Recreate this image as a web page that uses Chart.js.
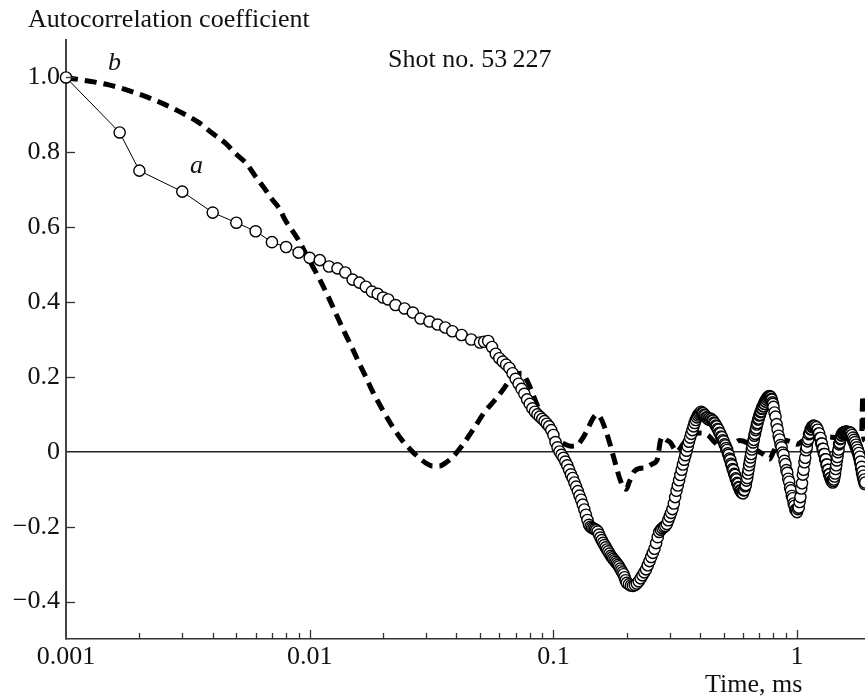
<!DOCTYPE html>
<html>
<head>
<meta charset="utf-8">
<script src="https://cdn.jsdelivr.net/npm/chart.js@4.4.1/dist/chart.umd.min.js"></script>
<style>
html,body{margin:0;padding:0;background:#fff;}
canvas{display:block;}
</style>
</head>
<body>
<canvas id="c" width="865" height="698"></canvas>
<script>
// ---- Data (time in microseconds, converted to ms when building datasets) ----
const aTimeUs = [1,1.66,2,3,4,5,6,7,8,9,10,11,12,13,14,15,16,17,18,19,20,21,22.5,24.5,26.5,28.5,31,33.5,36,38.5,42,46,50,
52,54,56,58,60,62,64,66,68,70,72,74,76,78,80,82,84,86,88,90,92,94,96,98,100,
102,104,106,108,110,112,114,116,118,120,122,124,126,128,130,132,134,136,138,140,142,144,146,148,150,
152,154,156,158,160,162,164,166,168,170,172,174,176,178,180,182,184,186,188,190,192,194,196,198,200,
204,208,212,216,220,224,228,232,236,240,244,248,252,256,260,264,268,272,276,280,284,288,292,296,300,
304,308,312,316,320,324,328,332,336,340,344,348,352,356,360,364,368,372,376,380,384,388,392,396,400,
404,408,412,416,420,424,428,432,436,440,444,448,452,456,460,464,468,472,476,480,484,488,492,496,500,
504,508,512,516,520,524,528,532,536,540,544,548,552,556,560,564,568,572,576,580,584,588,592,596,600,
604,608,612,616,620,624,628,632,636,640,644,648,652,656,660,664,668,672,676,680,684,688,692,696,700,
704,708,712,716,720,724,728,732,736,740,744,748,752,756,760,764,768,772,776,780,784,788,792,796,800,
808,816,824,832,840,848,856,864,872,880,888,896,904,912,920,928,936,944,952,960,968,976,984,992,1000,
1008,1016,1024,1032,1040,1048,1056,1064,1072,1080,1088,1096,1104,1112,1120,1128,1136,1144,1152,1160,1168,1176,1184,1192,1200,
1208,1216,1224,1232,1240,1248,1256,1264,1272,1280,1288,1296,1304,1312,1320,1328,1336,1344,1352,1360,1368,1376,1384,1392,1400,
1408,1416,1424,1432,1440,1448,1456,1464,1472,1480,1488,1496,1504,1512,1520,1528,1536,1544,1552,1560,1568,1576,1584,1592,1600,
1608,1616,1624,1632,1640,1648,1656,1664,1672,1680,1688,1696,1704,1712,1720,1728,1736,1744,1752,1760,1768,1776,1784,1792,1800,
1808,1816,1824,1832,1840,1848,1856,1864,1872,1880,1888,1896,1904];
const aValues = [1.0,0.853,0.751,0.695,0.639,0.612,0.589,0.56,0.547,0.532,0.518,0.512,0.495,0.49,0.479,0.46,0.452,0.441,0.428,0.422,0.412,0.407,0.392,0.383,0.372,0.356,0.348,0.34,0.332,0.322,0.312,0.3,0.292,
0.294,0.296,0.28,0.262,0.25,0.241,0.233,0.224,0.21,0.195,0.182,0.168,0.155,0.14,0.128,0.116,0.107,0.1,0.094,0.088,0.082,0.075,0.068,0.058,0.045,
0.026,0.012,0.001,-0.008,-0.016,-0.026,-0.036,-0.048,-0.06,-0.07,-0.082,-0.093,-0.105,-0.117,-0.128,-0.141,-0.154,-0.168,-0.182,-0.195,-0.2,-0.203,-0.205,-0.207,-0.209,
-0.213,-0.221,-0.229,-0.236,-0.243,-0.249,-0.255,-0.261,-0.266,-0.272,-0.278,-0.282,-0.286,-0.29,-0.294,-0.298,-0.302,-0.306,-0.312,-0.317,-0.322,-0.327,-0.335,-0.343,-0.35,
-0.354,-0.357,-0.358,-0.356,-0.352,-0.346,-0.338,-0.33,-0.322,-0.314,-0.303,-0.292,-0.281,-0.27,-0.259,-0.244,-0.228,-0.214,-0.208,-0.204,-0.201,-0.198,-0.193,-0.183,-0.173,
-0.163,-0.153,-0.138,-0.121,-0.104,-0.09,-0.076,-0.062,-0.048,-0.034,-0.021,-0.009,0.003,0.015,0.027,0.038,0.048,0.058,0.068,0.077,0.085,0.092,0.097,0.101,0.104,
0.107,0.104,0.103,0.099,0.097,0.092,0.091,0.087,0.089,0.085,0.088,0.084,0.083,0.078,0.076,0.07,0.068,0.061,0.059,0.051,0.049,0.041,0.039,0.031,0.028,
0.02,0.017,0.01,0.005,-0.004,-0.008,-0.018,-0.022,-0.032,-0.036,-0.046,-0.049,-0.059,-0.062,-0.071,-0.074,-0.083,-0.086,-0.094,-0.096,-0.103,-0.104,-0.109,-0.107,-0.111,
-0.103,-0.102,-0.092,-0.089,-0.077,-0.07,-0.058,-0.048,-0.036,-0.026,-0.015,-0.006,0.006,0.014,0.025,0.032,0.043,0.048,0.058,0.063,0.073,0.077,0.086,0.089,0.097,
0.099,0.106,0.108,0.115,0.116,0.122,0.122,0.129,0.128,0.135,0.134,0.14,0.139,0.145,0.143,0.148,0.145,0.149,0.146,0.146,0.141,0.139,0.132,0.128,0.12,
0.105,0.094,0.074,0.06,0.043,0.033,0.018,0.012,-0.002,-0.008,-0.024,-0.033,-0.049,-0.056,-0.072,-0.08,-0.096,-0.103,-0.118,-0.124,-0.138,-0.144,-0.155,-0.156,-0.161,
-0.153,-0.149,-0.134,-0.121,-0.098,-0.084,-0.061,-0.048,-0.028,-0.016,0.004,0.012,0.028,0.034,0.047,0.05,0.06,0.061,0.067,0.066,0.07,0.066,0.069,0.063,0.066,
0.058,0.059,0.049,0.049,0.037,0.037,0.022,0.022,0.008,0.008,-0.006,-0.006,-0.02,-0.02,-0.034,-0.034,-0.048,-0.048,-0.06,-0.06,-0.07,-0.07,-0.078,-0.077,-0.082,
-0.078,-0.074,-0.066,-0.058,-0.046,-0.036,-0.023,-0.014,-0.001,0.006,0.02,0.024,0.034,0.036,0.044,0.044,0.05,0.048,0.052,0.049,0.053,0.05,0.054,0.05,0.054,
0.048,0.052,0.047,0.051,0.048,0.052,0.046,0.05,0.041,0.045,0.034,0.038,0.028,0.032,0.022,0.026,0.015,0.019,0.008,0.012,0.001,0.005,-0.007,-0.003,-0.017,
-0.013,-0.03,-0.026,-0.044,-0.04,-0.057,-0.053,-0.068,-0.064,-0.078,-0.074,-0.086,-0.082];

const bTimeUs = [1,1.5,2,2.5,3,3.5,4,4.5,5,5.5,6,6.5,7,7.5,8,8.5,9,10,11,12,13,14,15,16,17,18,20,22,24,26,28,30,32,34,36,38,40,44,48,52,57,62,66,70,74,78,84,90,96,102,110,118,124,130,137,145,151,157,163,170,176,182,188,194,199,205,215,228,240,255,267,275,280,290,302,312,320,340,365,400,430,460,500,540,580,620,660,700,740,770,800,840,900,960,1000,1060,1120,1200,1280,1350,1430,1500,1580,1650,1720,1790,1840,1860,1875,1900];
const bValues = [1.0,0.98,0.955,0.93,0.905,0.88,0.85,0.825,0.795,0.77,0.735,0.705,0.675,0.65,0.615,0.59,0.565,0.51,0.46,0.41,0.36,0.315,0.275,0.235,0.2,0.165,0.11,0.065,0.03,0.005,-0.015,-0.03,-0.038,-0.038,-0.03,-0.018,-0.003,0.033,0.07,0.105,0.135,0.165,0.19,0.205,0.21,0.19,0.14,0.09,0.055,0.035,0.022,0.015,0.016,0.03,0.055,0.088,0.1,0.088,0.062,0.025,-0.01,-0.045,-0.075,-0.095,-0.1,-0.08,-0.052,-0.044,-0.042,-0.032,-0.02,0.03,0.04,0.032,0.025,0.01,0.0,0.02,0.045,0.05,0.045,0.025,0.005,0.015,0.03,0.025,0.01,0.0,-0.01,-0.02,0.0,0.025,0.03,0.025,0.02,0.03,0.035,0.04,0.03,0.04,0.038,0.035,0.042,0.038,0.035,0.04,0.045,0.15,0.04,0.03];

const xTickVals = [0.001,0.002,0.003,0.004,0.005,0.006,0.007,0.008,0.009,0.01,0.02,0.03,0.04,0.05,0.06,0.07,0.08,0.09,0.1,0.2,0.3,0.4,0.5,0.6,0.7,0.8,0.9,1];
const xMajorLabels = {0.001:'0.001', 0.01:'0.01', 0.1:'0.1', 1:'1'};
const yTickVals = [1.0,0.8,0.6,0.4,0.2,0,-0.2,-0.4];
const yTickLabels = ['1.0','0.8','0.6','0.4','0.2','0','\u22120.2','\u22120.4'];

const yAxisTitle = 'Autocorrelation coefficient';
const xAxisTitle = 'Time, ms';
const shotLabel = 'Shot no. 53\u2009227';
const curveLabelA = 'a';
const curveLabelB = 'b';

// ---- Build datasets ----
const dataA = aTimeUs.map((t,i)=>({x:t/1000, y:aValues[i]}));
const dataB = bTimeUs.map((t,i)=>({x:t/1000, y:bValues[i]}));

const FONT = '"Liberation Serif", "Times New Roman", serif';
const FS = 26;

const decorations = {
  id:'decorations',
  afterDraw(chart){
    const ctx = chart.ctx;
    const xs = chart.scales.x, ys = chart.scales.y;
    const ca = chart.chartArea;
    ctx.save();
    ctx.strokeStyle = '#333';
    ctx.lineWidth = 1.3;
    ys.ticks.forEach(t=>{
      if (t.value === 0) return;
      const py = Math.round(ys.getPixelForValue(t.value)) + 0.5;
      ctx.beginPath(); ctx.moveTo(ca.left, py); ctx.lineTo(ca.left + 9, py); ctx.stroke();
    });
    xs.ticks.forEach(t=>{
      const px = Math.round(xs.getPixelForValue(t.value)) + 0.5;
      const major = xMajorLabels[t.value] !== undefined;
      if (px <= ca.left + 1) return;
      ctx.beginPath(); ctx.moveTo(px, ca.bottom); ctx.lineTo(px, ca.bottom - (major ? 9 : 6)); ctx.stroke();
    });
    ctx.fillStyle = '#111';
    ctx.textBaseline = 'alphabetic';
    ctx.textAlign = 'left';
    ctx.font = FS + 'px ' + FONT;
    ctx.fillText(yAxisTitle, 28, 27);
    ctx.fillText(shotLabel, 388, 67);
    ctx.fillText(xAxisTitle, 705, 692);
    ctx.font = 'italic ' + FS + 'px ' + FONT;
    ctx.fillText(curveLabelB, 108, 70);
    ctx.fillText(curveLabelA, 190, 173);
    ctx.restore();
  }
};

new Chart(document.getElementById('c'), {
  type:'line',
  data:{
    datasets:[
      {
        label:'a', data:dataA, order:0,
        borderColor:'#000', borderWidth:1,
        pointRadius:5.6, pointBorderWidth:1.4,
        pointBackgroundColor:'#fff', pointBorderColor:'#000',
        tension:0, clip:false
      },
      {
        label:'b', data:dataB, order:1,
        borderColor:'#000', borderWidth:5, borderDash:[12,7],
        pointRadius:0, cubicInterpolationMode:'monotone', clip:false
      }
    ]
  },
  options:{
    responsive:false,
    animation:false,
    devicePixelRatio:1,
    layout:{autoPadding:false, padding:{top:40,left:0,right:0,bottom:0}},
    plugins:{legend:{display:false}, tooltip:{enabled:false}},
    scales:{
      x:{
        type:'logarithmic', min:0.001, max:1.9,
        afterBuildTicks(scale){ scale.ticks = xTickVals.map(v=>({value:v})); },
        afterFit(scale){ scale.height = 59; },
        grid:{display:true, drawTicks:false, color:'rgba(0,0,0,0)'},
        border:{display:true, color:'#333', width:1.6},
        ticks:{
          autoSkip:false, maxRotation:0, padding:3, color:'#111',
          font:{family:FONT, size:FS},
          callback(v){ return xMajorLabels[v] !== undefined ? xMajorLabels[v] : ''; }
        }
      },
      y:{
        type:'linear', min:-0.5, max:1.1,
        afterBuildTicks(scale){ scale.ticks = yTickVals.map(v=>({value:v})); },
        afterFit(scale){ scale.width = 66; },
        grid:{drawTicks:false, lineWidth:1.4,
          color(c){ return (c.tick && c.tick.value === 0) ? '#222' : 'rgba(0,0,0,0)'; }},
        border:{display:true, color:'#444', width:2},
        ticks:{
          padding:6, color:'#111',
          font:{family:FONT, size:FS},
          callback(v, i){ return yTickLabels[i]; }
        }
      }
    }
  },
  plugins:[decorations]
});
</script>
</body>
</html>
